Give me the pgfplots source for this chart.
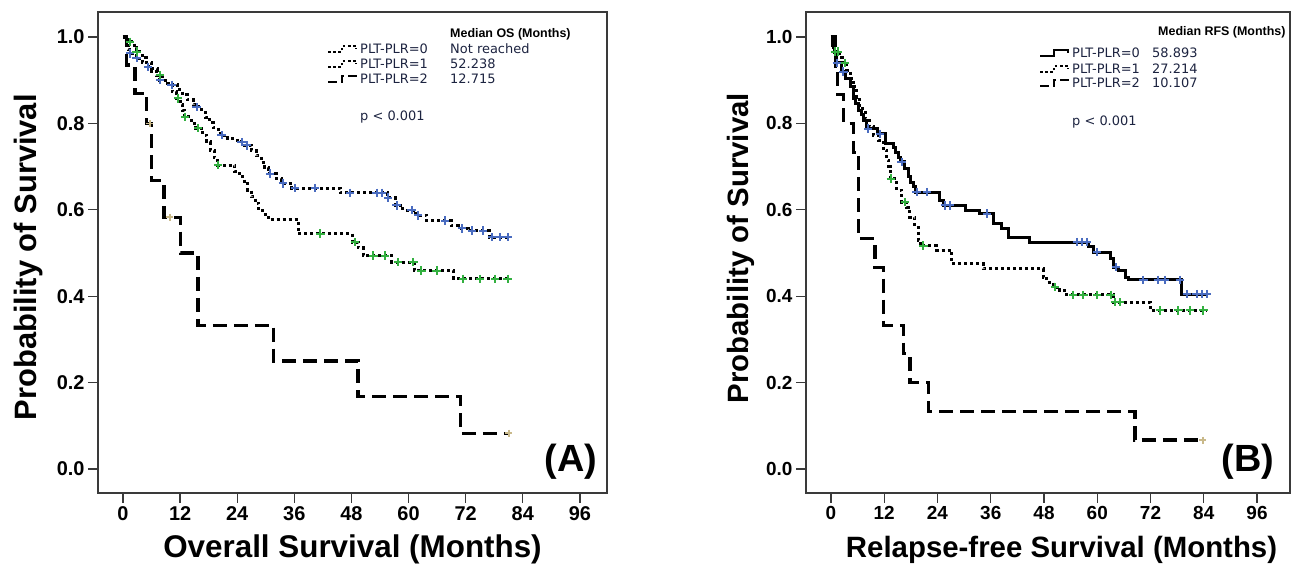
\documentclass[border=0pt]{standalone}
\usepackage{fontspec}
\setmainfont{Liberation Sans}
\newfontfamily\legfont{DejaVu Sans}
\usepackage{pgfplots}
\pgfplotsset{compat=1.18}
\definecolor{kmblue}{HTML}{4A6CC0}
\definecolor{kmgreen}{HTML}{33B040}
\definecolor{kmtan}{HTML}{C9B98A}
\definecolor{legtxt}{HTML}{1C2340}
\definecolor{framec}{HTML}{3A3A3A}

\pgfplotsset{
  kmaxis/.style={
    scale only axis, height=481bp, ymin=-0.0556, ymax=1.0579,
    axis line style={framec, line width=1.3bp},
    tick pos=left, tick align=outside, major tick length=10bp,
    every tick/.style={framec, line width=1.3bp},
    xtick={0,12,24,36,48,60,72,84,96}, ytick={0,0.2,0.4,0.6,0.8,1},
    /pgf/number format/assume math mode=true,
    y tick label style={/pgf/number format/fixed, /pgf/number format/fixed zerofill, /pgf/number format/precision=1},
    clip=false,
  },
  sdot/.style={black, line width=3bp, dash pattern=on 3bp off 3bp, const plot, mark=none},
  sdash/.style={black, line width=3.2bp, dash pattern=on 14bp off 7bp, const plot, mark=none},
  ssolid/.style={black, line width=3bp, const plot, mark=none},
  mblue/.style={only marks, mark=+, mark size=4.2bp, kmblue, mark options={line width=2bp}},
  mgreen/.style={only marks, mark=+, mark size=4.2bp, kmgreen, mark options={line width=2bp}},
  mtan/.style={only marks, mark=+, mark size=3.5bp, kmtan, mark options={line width=1.6bp}},
}

\begin{document}
\begin{tikzpicture}[x=1bp,y=1bp]
\useasboundingbox (0,0) rectangle (1291,569);

% ---------------- Panel A ----------------
\begin{axis}[kmaxis, at={(98bp,76bp)}, anchor=south west, width=509bp,
  xmin=-5.25, xmax=101.7,
  ticklabel style={font=\bfseries\fontsize{20}{20}\selectfont},
  xlabel={Overall Survival (Months)},
  xlabel style={at={(axis description cs:0.5,-0.118)}, anchor=center, font=\bfseries\fontsize{31.5}{31.5}\selectfont},
  ylabel={Probability of Survival},
  ylabel style={at={(axis description cs:-0.136,0.49)}, anchor=center, font=\bfseries\fontsize{31}{31}\selectfont},
]
\addplot[sdot] coordinates {
(0,1.0)(0.3,0.99)(0.7,0.98)(1.1,0.97)(1.4,0.962)(2.8,0.951)(4.0,0.941)(5.0,0.931)
(6.0,0.921)(7.0,0.91)(7.7,0.90)(9.5,0.889)(11.5,0.878)(12.5,0.866)(13.5,0.855)
(14.8,0.843)(15.4,0.838)(16.5,0.826)(17.3,0.814)(18.2,0.802)(19.0,0.79)(20.0,0.777)
(20.5,0.773)(22.0,0.765)(24.0,0.757)(25.5,0.749)(27.0,0.737)(28.0,0.725)(29.0,0.71)
(29.8,0.697)(30.5,0.684)(32.3,0.672)(33.3,0.661)(35.5,0.65)(45.6,0.639)(55.5,0.628)
(57.2,0.61)(58.8,0.599)(61.5,0.587)(63.8,0.575)(69.0,0.563)(70.5,0.557)(72.5,0.552)
(77.0,0.537)(81.3,0.537)};
\addplot[sdot] coordinates {
(0,1.0)(1.0,0.989)(2.4,0.975)(2.8,0.966)(4.0,0.952)(5.0,0.94)(6.0,0.926)(7.2,0.912)
(8.3,0.90)(9.4,0.888)(10.4,0.873)(11.2,0.858)(12.0,0.844)(12.5,0.83)(12.9,0.815)
(14.3,0.80)(15.3,0.789)(16.8,0.773)(17.6,0.757)(18.3,0.738)(19.2,0.72)(19.8,0.703)
(23.5,0.688)(24.5,0.676)(25.5,0.66)(26.2,0.645)(27.0,0.63)(27.8,0.615)(28.5,0.603)
(29.4,0.59)(30.5,0.578)(36.8,0.545)(48.2,0.525)(49.4,0.512)(50.5,0.494)(56.5,0.479)
(61.2,0.459)(69.5,0.44)(81.3,0.44)};
\addplot[sdash] coordinates {
(0,1.0)(0.78,0.935)(2.52,0.87)(4.98,0.8)(6.03,0.667)(8.6,0.583)(12.08,0.5)
(15.76,0.333)(31.62,0.25)(49.37,0.167)(70.97,0.083)(81.1,0.083)};
\addplot[mblue] coordinates {
(1.47,0.962)(2.88,0.951)(5.25,0.931)(7.77,0.90)(10.23,0.889)(15.48,0.838)(20.74,0.773)
(24.94,0.757)(25.99,0.749)(30.88,0.684)(33.61,0.661)(36.13,0.65)(40.34,0.65)(47.69,0.639)
(53.3,0.639)(54.35,0.639)(55.7,0.628)(57.5,0.61)(60.65,0.599)(62.04,0.587)(67.65,0.575)
(71.2,0.557)(73.3,0.552)(75.7,0.552)(77.5,0.537)(79.2,0.537)(80.9,0.537)};
\addplot[mgreen] coordinates {
(1.47,0.989)(2.88,0.966)(7.77,0.912)(11.55,0.858)(13.03,0.815)(15.76,0.789)(19.96,0.703)
(41.5,0.545)(48.7,0.525)(52.6,0.494)(55.0,0.494)(57.8,0.479)(61.0,0.479)(62.7,0.459)
(65.9,0.459)(71.5,0.44)(75.0,0.44)(78.2,0.44)(80.8,0.44)};
\addplot[mtan] coordinates {(5.67,0.8)(9.87,0.583)(81.1,0.083)};
\end{axis}

% ---------------- Panel B ----------------
\begin{axis}[kmaxis, at={(806bp,76bp)}, anchor=south west, width=484bp,
  xmin=-5.63, xmax=103.44,
  ticklabel style={font=\bfseries\fontsize{19}{19}\selectfont},
  xlabel={Relapse-free Survival (Months)},
  xlabel style={at={(axis description cs:0.528,-0.118)}, anchor=center, font=\bfseries\fontsize{29.5}{29.5}\selectfont},
  ylabel={Probability of Survival},
  ylabel style={at={(axis description cs:-0.134,0.509)}, anchor=center, font=\bfseries\fontsize{29.5}{29.5}\selectfont},
]
\addplot[ssolid] coordinates {
(0,1.0)(0.3,0.98)(0.7,0.965)(1.2,0.94)(2.4,0.92)(3.2,0.905)(4.3,0.885)(5.0,0.858)
(5.6,0.845)(6.2,0.831)(6.8,0.82)(7.3,0.807)(8.0,0.788)(10.5,0.776)(12.2,0.753)
(14.0,0.745)(14.6,0.733)(15.2,0.722)(15.7,0.711)(16.5,0.695)(17.4,0.676)(18.0,0.664)
(18.5,0.653)(19.0,0.641)(24.5,0.622)(25.3,0.61)(30.4,0.599)(33.5,0.591)(36.6,0.568)
(38.5,0.556)(40.0,0.537)(44.8,0.525)(58.0,0.514)(59.1,0.502)(62.9,0.487)(63.6,0.467)
(64.7,0.459)(66.3,0.444)(67.0,0.438)(79.0,0.405)(84.7,0.405)};
\addplot[sdot] coordinates {
(0,1.0)(0.5,0.975)(0.8,0.966)(2.0,0.952)(2.5,0.94)(3.5,0.923)(4.3,0.904)(5.0,0.885)
(5.8,0.861)(6.5,0.834)(7.7,0.811)(8.6,0.792)(9.5,0.773)(10.7,0.761)(11.8,0.738)
(12.6,0.715)(13.0,0.70)(13.3,0.672)(14.8,0.645)(15.9,0.618)(17.1,0.606)(17.8,0.583)
(18.9,0.56)(19.7,0.529)(20.1,0.517)(23.8,0.506)(27.2,0.475)(34.3,0.463)(47.8,0.444)
(48.6,0.432)(50.1,0.421)(51.6,0.413)(53.1,0.403)(63.6,0.386)(71.9,0.367)(84.7,0.367)};
\addplot[sdash] coordinates {
(0,1.0)(1.0,0.933)(1.5,0.867)(2.9,0.8)(5.0,0.733)(6.2,0.533)(9.9,0.467)(11.8,0.333)
(16.3,0.267)(17.8,0.2)(22,0.133)(68.5,0.067)(83.8,0.067)};
\addplot[mblue] coordinates {
(1.3,0.94)(2.8,0.92)(8.4,0.788)(11.0,0.776)(15.9,0.711)(19.3,0.641)(21.6,0.641)
(25.7,0.61)(26.8,0.61)(35.1,0.591)(55.4,0.525)(56.5,0.525)(57.6,0.525)(59.9,0.502)
(64.2,0.467)(70.4,0.438)(73.8,0.438)(75.3,0.438)(78.6,0.438)(80.2,0.405)(82.4,0.405)
(83.5,0.405)(84.7,0.405)};
\addplot[mgreen] coordinates {
(0.9,0.966)(1.6,0.966)(3.2,0.94)(13.5,0.672)(16.7,0.618)(20.8,0.517)(50.5,0.421)
(54.6,0.403)(56.9,0.403)(59.9,0.403)(63.0,0.403)(64.0,0.386)(65.1,0.386)(74.1,0.367)
(78.3,0.367)(80.9,0.367)(83.9,0.367)};
\addplot[mtan] coordinates {(83.8,0.067)};
\end{axis}

% ---------------- Legends / annotations ----------------
\newcommand{\kmicon}[3]{\draw[#3, line width=2.4bp] (#1,#2-3) -- ++(14,0) -- ++(0,6) -- ++(14,0) -- ++(0,-3);}
\tikzset{legdot/.style={black, dash pattern=on 2.6bp off 2.6bp}, legdash/.style={black, dash pattern=on 9bp off 4bp}, legsolid/.style={black}}

% Panel A legend
\node[anchor=west, inner sep=0] at (450,535) {\bfseries\fontsize{12.5}{12.5}\selectfont Median OS (Months)};
\kmicon{328}{520}{legdot}
\kmicon{328}{505}{legdot}
\kmicon{328}{490}{legdash}
\node[anchor=west, inner sep=0, text=legtxt] at (360,520) {\legfont\fontsize{13}{13}\selectfont PLT-PLR=0};
\node[anchor=west, inner sep=0, text=legtxt] at (360,505) {\legfont\fontsize{13}{13}\selectfont PLT-PLR=1};
\node[anchor=west, inner sep=0, text=legtxt] at (360,490) {\legfont\fontsize{13}{13}\selectfont PLT-PLR=2};
\node[anchor=west, inner sep=0, text=legtxt] at (450,520) {\legfont\fontsize{13}{13}\selectfont Not reached};
\node[anchor=west, inner sep=0, text=legtxt] at (450,505) {\legfont\fontsize{13}{13}\selectfont 52.238};
\node[anchor=west, inner sep=0, text=legtxt] at (450,490) {\legfont\fontsize{13}{13}\selectfont 12.715};
\node[anchor=west, inner sep=0, text=legtxt] at (360,452) {\legfont\fontsize{13}{13}\selectfont p < 0.001};
\node[inner sep=0] at (571,107) {\bfseries\fontsize{38}{38}\selectfont (A)};

% Panel B legend
\node[anchor=west, inner sep=0] at (1158,537) {\bfseries\fontsize{12.5}{12.5}\selectfont Median RFS (Months)};
\kmicon{1040}{516}{legsolid}
\kmicon{1040}{500}{legdot}
\kmicon{1040}{486}{legdash}
\node[anchor=west, inner sep=0, text=legtxt] at (1072,516) {\legfont\fontsize{13}{13}\selectfont PLT-PLR=0};
\node[anchor=west, inner sep=0, text=legtxt] at (1072,500) {\legfont\fontsize{13}{13}\selectfont PLT-PLR=1};
\node[anchor=west, inner sep=0, text=legtxt] at (1072,486) {\legfont\fontsize{13}{13}\selectfont PLT-PLR=2};
\node[anchor=west, inner sep=0, text=legtxt] at (1152,516) {\legfont\fontsize{13}{13}\selectfont 58.893};
\node[anchor=west, inner sep=0, text=legtxt] at (1152,500) {\legfont\fontsize{13}{13}\selectfont 27.214};
\node[anchor=west, inner sep=0, text=legtxt] at (1152,486) {\legfont\fontsize{13}{13}\selectfont 10.107};
\node[anchor=west, inner sep=0, text=legtxt] at (1072,447) {\legfont\fontsize{13}{13}\selectfont p < 0.001};
\node[inner sep=0] at (1248,107) {\bfseries\fontsize{38}{38}\selectfont (B)};
\end{tikzpicture}
\end{document}
